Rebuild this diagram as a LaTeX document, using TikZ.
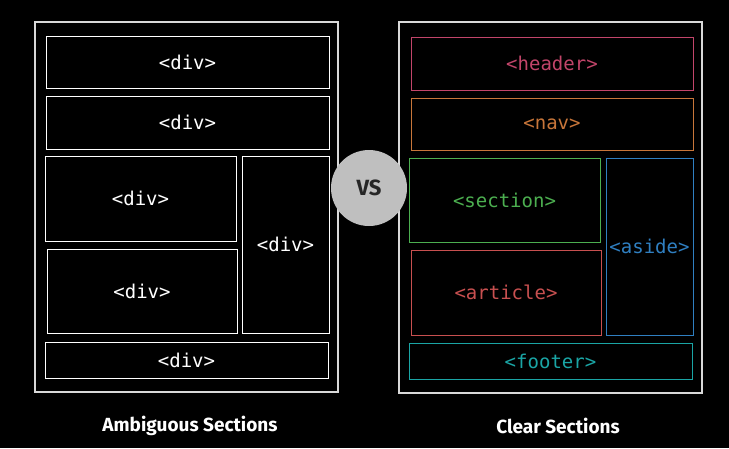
\documentclass[tikz,border=0pt]{standalone}
\usepackage{fontspec}
\setmonofont{DejaVu Sans Mono}
\setsansfont{Fira Sans}
\definecolor{hdrcol}{HTML}{C2456A}
\definecolor{navcol}{HTML}{C8763A}
\definecolor{seccol}{HTML}{4CAF50}
\definecolor{asdcol}{HTML}{2F7FC1}
\definecolor{artcol}{HTML}{C85050}
\definecolor{ftrcol}{HTML}{1AA5A5}
\tikzset{
  panel/.style={draw=white!85!black, line width=1.1pt},
  blk/.style={draw=#1, line width=1pt, text=#1, font=\ttfamily\fontsize{19}{19}\selectfont},
  blk/.default=white,
  caption/.style={text=white, font=\sffamily\bfseries\fontsize{19}{19}\selectfont}
}
\begin{document}
\begin{tikzpicture}[x=1pt,y=-1pt]
			\fill[black] (0,0) rectangle (729,448);
			% left panel
			\draw[panel] (35,22) rectangle (338,392);
			\draw[blk] (46,36) rectangle (329,88) node[midway] (d1) {<div>};
			\draw[blk] (46,96) rectangle (329,149) node[midway] (d2) {<div>};
			\draw[blk] (45,156) rectangle (236,241) node[midway] (d3) {<div>};
			\draw[blk] (242,156) rectangle (329,333) node[midway] (d4) {<div>};
			\draw[blk] (47,249) rectangle (237,333) node[midway] (d5) {<div>};
			\draw[blk] (45,342) rectangle (328,378) node[midway] (d6) {<div>};
			% right panel
			\draw[panel] (399,22) rectangle (702,393);
			\draw[blk=hdrcol] (411,37) rectangle (693,90) node[midway] (hdr) {<header>};
			\draw[blk=navcol] (411,98) rectangle (693,150) node[midway] (nav) {<nav>};
			\draw[blk=seccol] (409,158) rectangle (600,242) node[midway] (sec) {<section>};
			\draw[blk=asdcol] (606,158) rectangle (693,335) node[midway] (asd) {<aside>};
			\draw[blk=artcol] (411,250) rectangle (601,335) node[midway] (art) {<article>};
			\draw[blk=ftrcol] (409,343) rectangle (692,379) node[midway] (ftr) {<footer>};
			% vs badge
			\node[circle, fill=white!75!black, minimum size=76pt, inner sep=0pt,
			  font=\sffamily\bfseries\fontsize{22}{22}\selectfont, text=black!85] (vs) at (369,188) {VS};
			\node[caption] (amb) at (190,426) {Ambiguous Sections};
			\node[caption] (clr) at (558,426) {Clear Sections};
\end{tikzpicture}
\end{document}
